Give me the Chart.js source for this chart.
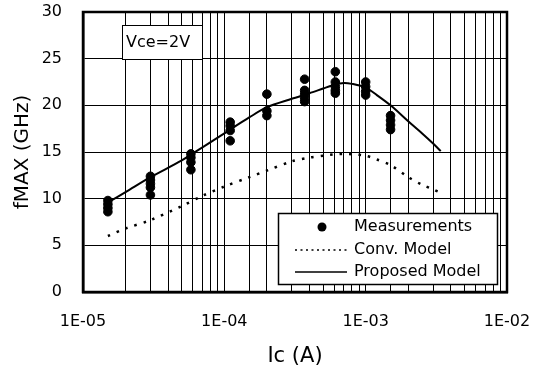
<!DOCTYPE html>
<html>
<head>
<meta charset="utf-8">
<script src="https://cdn.jsdelivr.net/npm/chart.js@4"></script>
<style>
  html, body { margin: 0; padding: 0; background: #fff; }
  canvas { display: block; }
</style>
</head>
<body>
<canvas id="chart" width="535" height="369"></canvas>
<script>
// measured fMAX points (Ic in A, fMAX in GHz)
const measCurrent = [
  1.5e-5, 1.5e-5, 1.5e-5, 1.5e-5,
  3e-5, 3e-5, 3e-5, 3e-5, 3e-5,
  5.8e-5, 5.8e-5, 5.8e-5, 5.8e-5,
  1.1e-4, 1.1e-4, 1.1e-4, 1.1e-4,
  2e-4, 2e-4, 2e-4,
  3.7e-4, 3.7e-4, 3.7e-4, 3.7e-4, 3.7e-4,
  6.1e-4, 6.1e-4, 6.1e-4, 6.1e-4, 6.1e-4,
  1e-3, 1e-3, 1e-3, 1e-3,
  1.5e-3, 1.5e-3, 1.5e-3, 1.5e-3
];
const measFmax = [
  9.8, 9.4, 9.0, 8.6,
  12.4, 12.0, 11.6, 11.2, 10.4,
  14.8, 14.4, 13.9, 13.1,
  18.2, 17.8, 17.3, 16.2,
  21.2, 19.4, 18.9,
  22.8, 21.6, 21.2, 20.8, 20.4,
  23.6, 22.5, 22.0, 21.6, 21.3,
  22.5, 22.0, 21.5, 21.1,
  18.9, 18.4, 17.9, 17.4
];

// model curves
const modelCurrent = [1.5e-5, 2e-5, 3e-5, 5e-5, 7e-5, 1e-4, 1.5e-4, 2e-4, 3e-4, 4e-4, 5e-4, 6e-4, 7e-4, 8e-4, 1e-3, 1.2e-3, 1.5e-3, 2e-3, 2.5e-3, 3e-3, 3.4e-3];
const proposedFmax = [9.6, 10.7, 12.3, 14.1, 15.5, 17.0, 18.7, 19.8, 20.7, 21.3, 21.8, 22.2, 22.4, 22.3, 21.9, 21.1, 20.0, 18.3, 17.0, 15.9, 15.1];
const convFmax     = [6.0, 6.8, 7.7, 9.2, 10.3, 11.3, 12.3, 13.0, 14.0, 14.4, 14.6, 14.75, 14.8, 14.75, 14.6, 14.2, 13.6, 12.3, 11.5, 11.0, 10.6];

const yTicks = [0, 5, 10, 15, 20, 25, 30];
const decadeLabels = { '-5': '1E-05', '-4': '1E-04', '-3': '1E-03', '-2': '1E-02' };

const FONT = '"DejaVu Sans", sans-serif';

function toPoints(xs, ys) {
  return xs.map((x, i) => ({ x: x, y: ys[i] }));
}

const frameAndBoxes = {
  id: 'frameAndBoxes',
  afterDraw(chart) {
    const ctx = chart.ctx;
    const a = chart.chartArea;
    ctx.save();
    // plot frame
    ctx.strokeStyle = '#000';
    ctx.lineWidth = 2.5;
    ctx.strokeRect(a.left, a.top, a.right - a.left, a.bottom - a.top);

    // Vce box
    ctx.fillStyle = '#fff';
    ctx.fillRect(122, 25, 80, 34);
    ctx.lineWidth = 1;
    ctx.strokeRect(122.5, 25.5, 80, 34);
    ctx.fillStyle = '#000';
    ctx.font = '16px ' + FONT;
    ctx.textBaseline = 'middle';
    ctx.textAlign = 'left';
    ctx.fillText('Vce=2V', 126, 43);

    // legend box
    const lx = 278, ly = 213, lw = 219, lh = 71;
    ctx.fillStyle = '#fff';
    ctx.fillRect(lx, ly, lw, lh);
    ctx.strokeStyle = '#000';
    ctx.lineWidth = 1.5;
    ctx.strokeRect(lx + 0.5, ly + 0.5, lw, lh);

    ctx.fillStyle = '#000';
    ctx.beginPath();
    ctx.arc(322, 227, 4.5, 0, Math.PI * 2);
    ctx.fill();

    ctx.lineWidth = 1.5;
    ctx.setLineDash([2, 3.5]);
    ctx.beginPath();
    ctx.moveTo(295, 250);
    ctx.lineTo(347, 250);
    ctx.stroke();

    ctx.setLineDash([]);
    ctx.beginPath();
    ctx.moveTo(295, 272);
    ctx.lineTo(347, 272);
    ctx.stroke();

    ctx.font = '16px ' + FONT;
    ctx.fillText('Measurements', 354, 227);
    ctx.fillText('Conv. Model', 354, 250);
    ctx.fillText('Proposed Model', 354, 272);
    ctx.restore();
  }
};

new Chart(document.getElementById('chart'), {
  type: 'scatter',
  data: {
    datasets: [
      {
        label: 'Measurements',
        data: toPoints(measCurrent, measFmax),
        backgroundColor: '#000',
        borderColor: '#000',
        pointRadius: 4.3,
        showLine: false
      },
      {
        label: 'Conv. Model',
        data: toPoints(modelCurrent, convFmax),
        showLine: true,
        borderColor: '#000',
        borderWidth: 2.5,
        borderDash: [2.5, 7],
        pointRadius: 0,
        tension: 0.3
      },
      {
        label: 'Proposed Model',
        data: toPoints(modelCurrent, proposedFmax),
        showLine: true,
        borderColor: '#000',
        borderWidth: 2,
        pointRadius: 0,
        tension: 0.3
      }
    ]
  },
  options: {
    responsive: false,
    animation: false,
    layout: { padding: { left: 0, right: 28, top: 12, bottom: 0 } },
    plugins: {
      legend: { display: false },
      tooltip: { enabled: false }
    },
    scales: {
      x: {
        type: 'logarithmic',
        min: 1e-5,
        max: 1e-2,
        afterFit: s => { s.height = 77; s.paddingLeft = 0; s.paddingRight = 0; },
        grid: { color: '#000', lineWidth: 1, drawTicks: false },
        border: { color: '#000', width: 2.5 },
        ticks: {
          autoSkip: false,
          maxRotation: 0,
          padding: 20,
          color: '#000',
          font: { family: FONT, size: 16 },
          callback: function (v) {
            const e = Math.log10(v);
            if (Math.abs(e - Math.round(e)) < 1e-6) return decadeLabels[String(Math.round(e))] || '';
            return '';
          }
        },
        title: {
          display: true,
          text: 'Ic (A)',
          color: '#000',
          font: { family: FONT, size: 21 },
          padding: { top: 6, bottom: 0 }
        }
      },
      y: {
        min: 0,
        max: 30,
        afterFit: s => { s.width = 83; s.paddingTop = 0; s.paddingBottom = 0; },
        afterBuildTicks: s => { s.ticks = yTicks.map(v => ({ value: v })); },
        grid: { color: '#000', lineWidth: 1, drawTicks: false },
        border: { color: '#000', width: 2.5 },
        ticks: {
          padding: 21,
          color: '#000',
          font: { family: FONT, size: 16 }
        },
        title: {
          display: true,
          text: 'fMAX (GHz)',
          color: '#000',
          font: { family: FONT, size: 20 },
          padding: { top: 11, bottom: 0 }
        }
      }
    }
  },
  plugins: [frameAndBoxes]
});
</script>
</body>
</html>
